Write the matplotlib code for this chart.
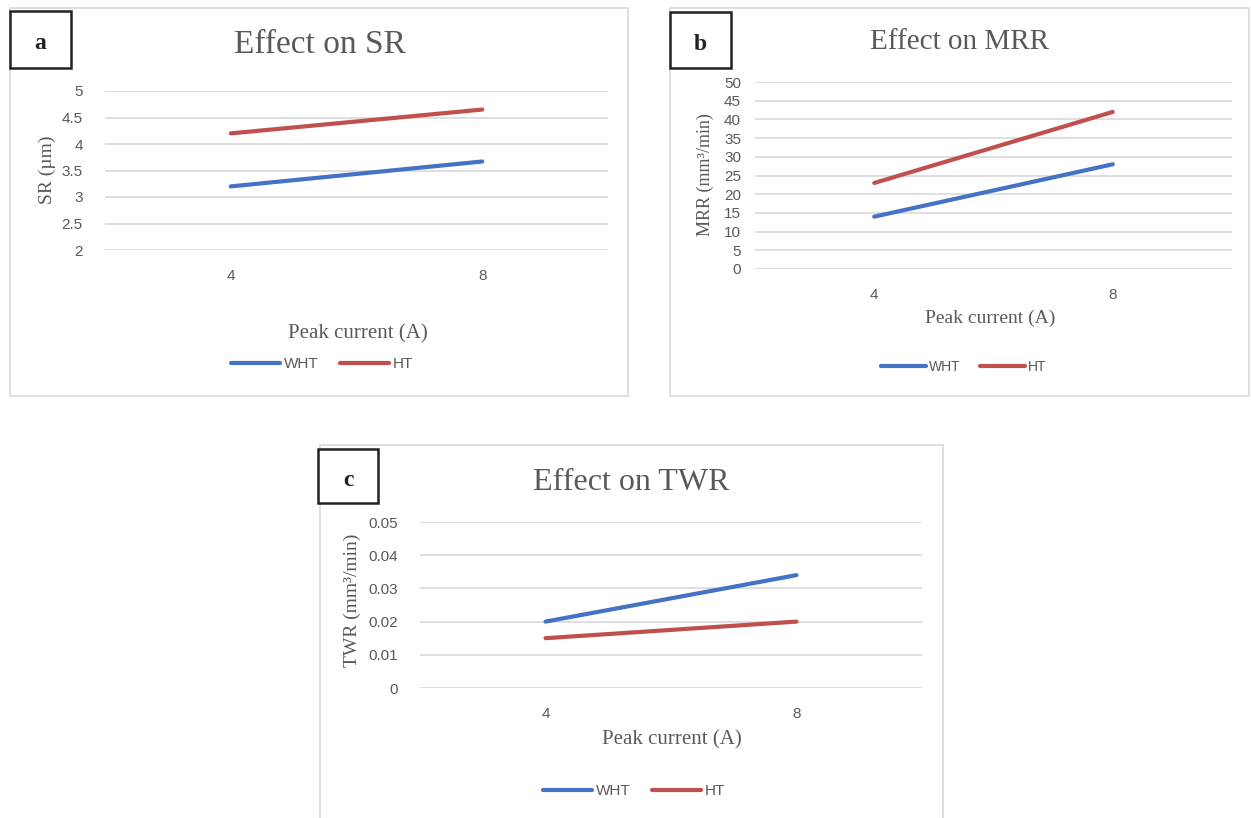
import matplotlib
matplotlib.use("Agg")
import matplotlib.pyplot as plt
from matplotlib.patches import Rectangle

# data
currents = ["4", "8"]
sr_wht = [3.2, 3.67]
sr_ht = [4.2, 4.65]
mrr_wht = [14, 28]
mrr_ht = [23, 42]
twr_wht = [0.02, 0.034]
twr_ht = [0.015, 0.02]

sr_ticks = [2, 2.5, 3, 3.5, 4, 4.5, 5]
sr_ticklabels = ["2", "2.5", "3", "3.5", "4", "4.5", "5"]
mrr_ticks = list(range(0, 55, 5))
twr_ticks = [0, 0.01, 0.02, 0.03, 0.04, 0.05]
twr_ticklabels = ["0", "0.01", "0.02", "0.03", "0.04", "0.05"]

W, H = 1251, 818
BLUE = "#4472C4"
RED = "#C0504D"
GREY = "#595959"
SERIF = "Liberation Serif"
SANS = "Liberation Sans"

fig = plt.figure(figsize=(W / 100, H / 100), dpi=100)
fig.patch.set_facecolor("white")


def fx(x):
    return x / W


def fy(y):
    return 1 - y / H


def px_box(x0, y0, x1, y1):
    # pixel box -> figure fraction [left, bottom, width, height]
    return [x0 / W, 1 - y1 / H, (x1 - x0) / W, (y1 - y0) / H]


def frame(x0, y0, x1, y1, color="#D9D9D9", lw=1.2):
    fig.patches.append(Rectangle((fx(x0), fy(y1)), fx(x1 - x0), (y1 - y0) / H,
                                 transform=fig.transFigure, fill=False,
                                 edgecolor=color, linewidth=lw))


def tag(x0, y0, x1, y1, letter):
    fig.patches.append(Rectangle((fx(x0), fy(y1)), fx(x1 - x0), (y1 - y0) / H,
                                 transform=fig.transFigure, facecolor="white",
                                 edgecolor="#222222", linewidth=1.8, zorder=5))
    fig.text(fx((x0 + x1) / 2), fy((y0 + y1) / 2 + 4), letter, family=SERIF,
             fontsize=17, fontweight="bold", color="#222222", ha="center",
             va="center", zorder=6)


def panel(box, wht, ht, ticks, ylim, ticklabels=None, ypad=4):
    ax = fig.add_axes(px_box(*box))
    x = range(len(currents))
    ax.plot(x, wht, color=BLUE, lw=3, solid_capstyle="round", label="WHT", zorder=3)
    ax.plot(x, ht, color=RED, lw=3, solid_capstyle="round", label="HT", zorder=3)
    ax.set_xlim(-0.5, 1.5)
    ax.set_ylim(*ylim)
    ax.set_xticks(list(x))
    ax.set_xticklabels(currents)
    ax.set_yticks(ticks)
    if ticklabels is not None:
        ax.set_yticklabels(ticklabels)
    ax.grid(axis="y", color="#D9D9D9", lw=1.2)
    ax.set_axisbelow(True)
    for s in ax.spines.values():
        s.set_visible(False)
    ax.tick_params(length=0, colors=GREY, labelsize=11)
    ax.tick_params(axis="x", pad=14)
    ax.tick_params(axis="y", pad=ypad)
    for lab in ax.get_xticklabels() + ax.get_yticklabels():
        lab.set_family(SANS)
    return ax


def add_legend(ax, cx, cy, size):
    leg = ax.legend(loc="center", bbox_to_anchor=(fx(cx), fy(cy)),
                    bbox_transform=fig.transFigure, ncol=2, frameon=False,
                    handlelength=3.2, handletextpad=0.25, columnspacing=1.4,
                    prop={"family": SANS, "size": size})
    for t in leg.get_texts():
        t.set_color(GREY)


# panel a
frame(10, 8, 628, 396)
ax_a = panel((105, 91, 608, 250), sr_wht, sr_ht, sr_ticks, (2, 5),
             ticklabels=sr_ticklabels, ypad=16)
fig.text(fx(320), fy(45), "Effect on SR", family=SERIF, fontsize=24,
         color=GREY, ha="center", va="center")
fig.text(fx(47), fy(170), "SR (µm)", family=SERIF, fontsize=14, color=GREY,
         rotation=90, ha="center", va="center")
fig.text(fx(358), fy(334), "Peak current (A)", family=SERIF, fontsize=15,
         color=GREY, ha="center", va="center")
tag(10, 11, 71, 68, "a")
add_legend(ax_a, 322, 364, 11)

# panel b
frame(670, 8, 1249, 396)
ax_b = panel((755, 82, 1232, 269), mrr_wht, mrr_ht, mrr_ticks, (0, 50), ypad=10)
fig.text(fx(960), fy(42), "Effect on MRR", family=SERIF, fontsize=21,
         color=GREY, ha="center", va="center")
fig.text(fx(705), fy(175), "MRR (mm³/min)", family=SERIF, fontsize=13,
         color=GREY, rotation=90, ha="center", va="center")
fig.text(fx(990), fy(318), "Peak current (A)", family=SERIF, fontsize=14,
         color=GREY, ha="center", va="center")
tag(670, 12, 731, 68, "b")
add_legend(ax_b, 964, 367, 10)

# panel c
frame(320, 445, 943, 830)
ax_c = panel((420, 522, 922, 688), twr_wht, twr_ht, twr_ticks, (0, 0.05),
             ticklabels=twr_ticklabels, ypad=16)
fig.text(fx(631), fy(482), "Effect on TWR", family=SERIF, fontsize=23,
         color=GREY, ha="center", va="center")
fig.text(fx(352), fy(600), "TWR (mm³/min)", family=SERIF, fontsize=14,
         color=GREY, rotation=90, ha="center", va="center")
fig.text(fx(672), fy(740), "Peak current (A)", family=SERIF, fontsize=15,
         color=GREY, ha="center", va="center")
tag(318, 449, 378, 503, "c")
add_legend(ax_c, 634, 791, 11)

fig.savefig("out.png", dpi=100, facecolor="white")
